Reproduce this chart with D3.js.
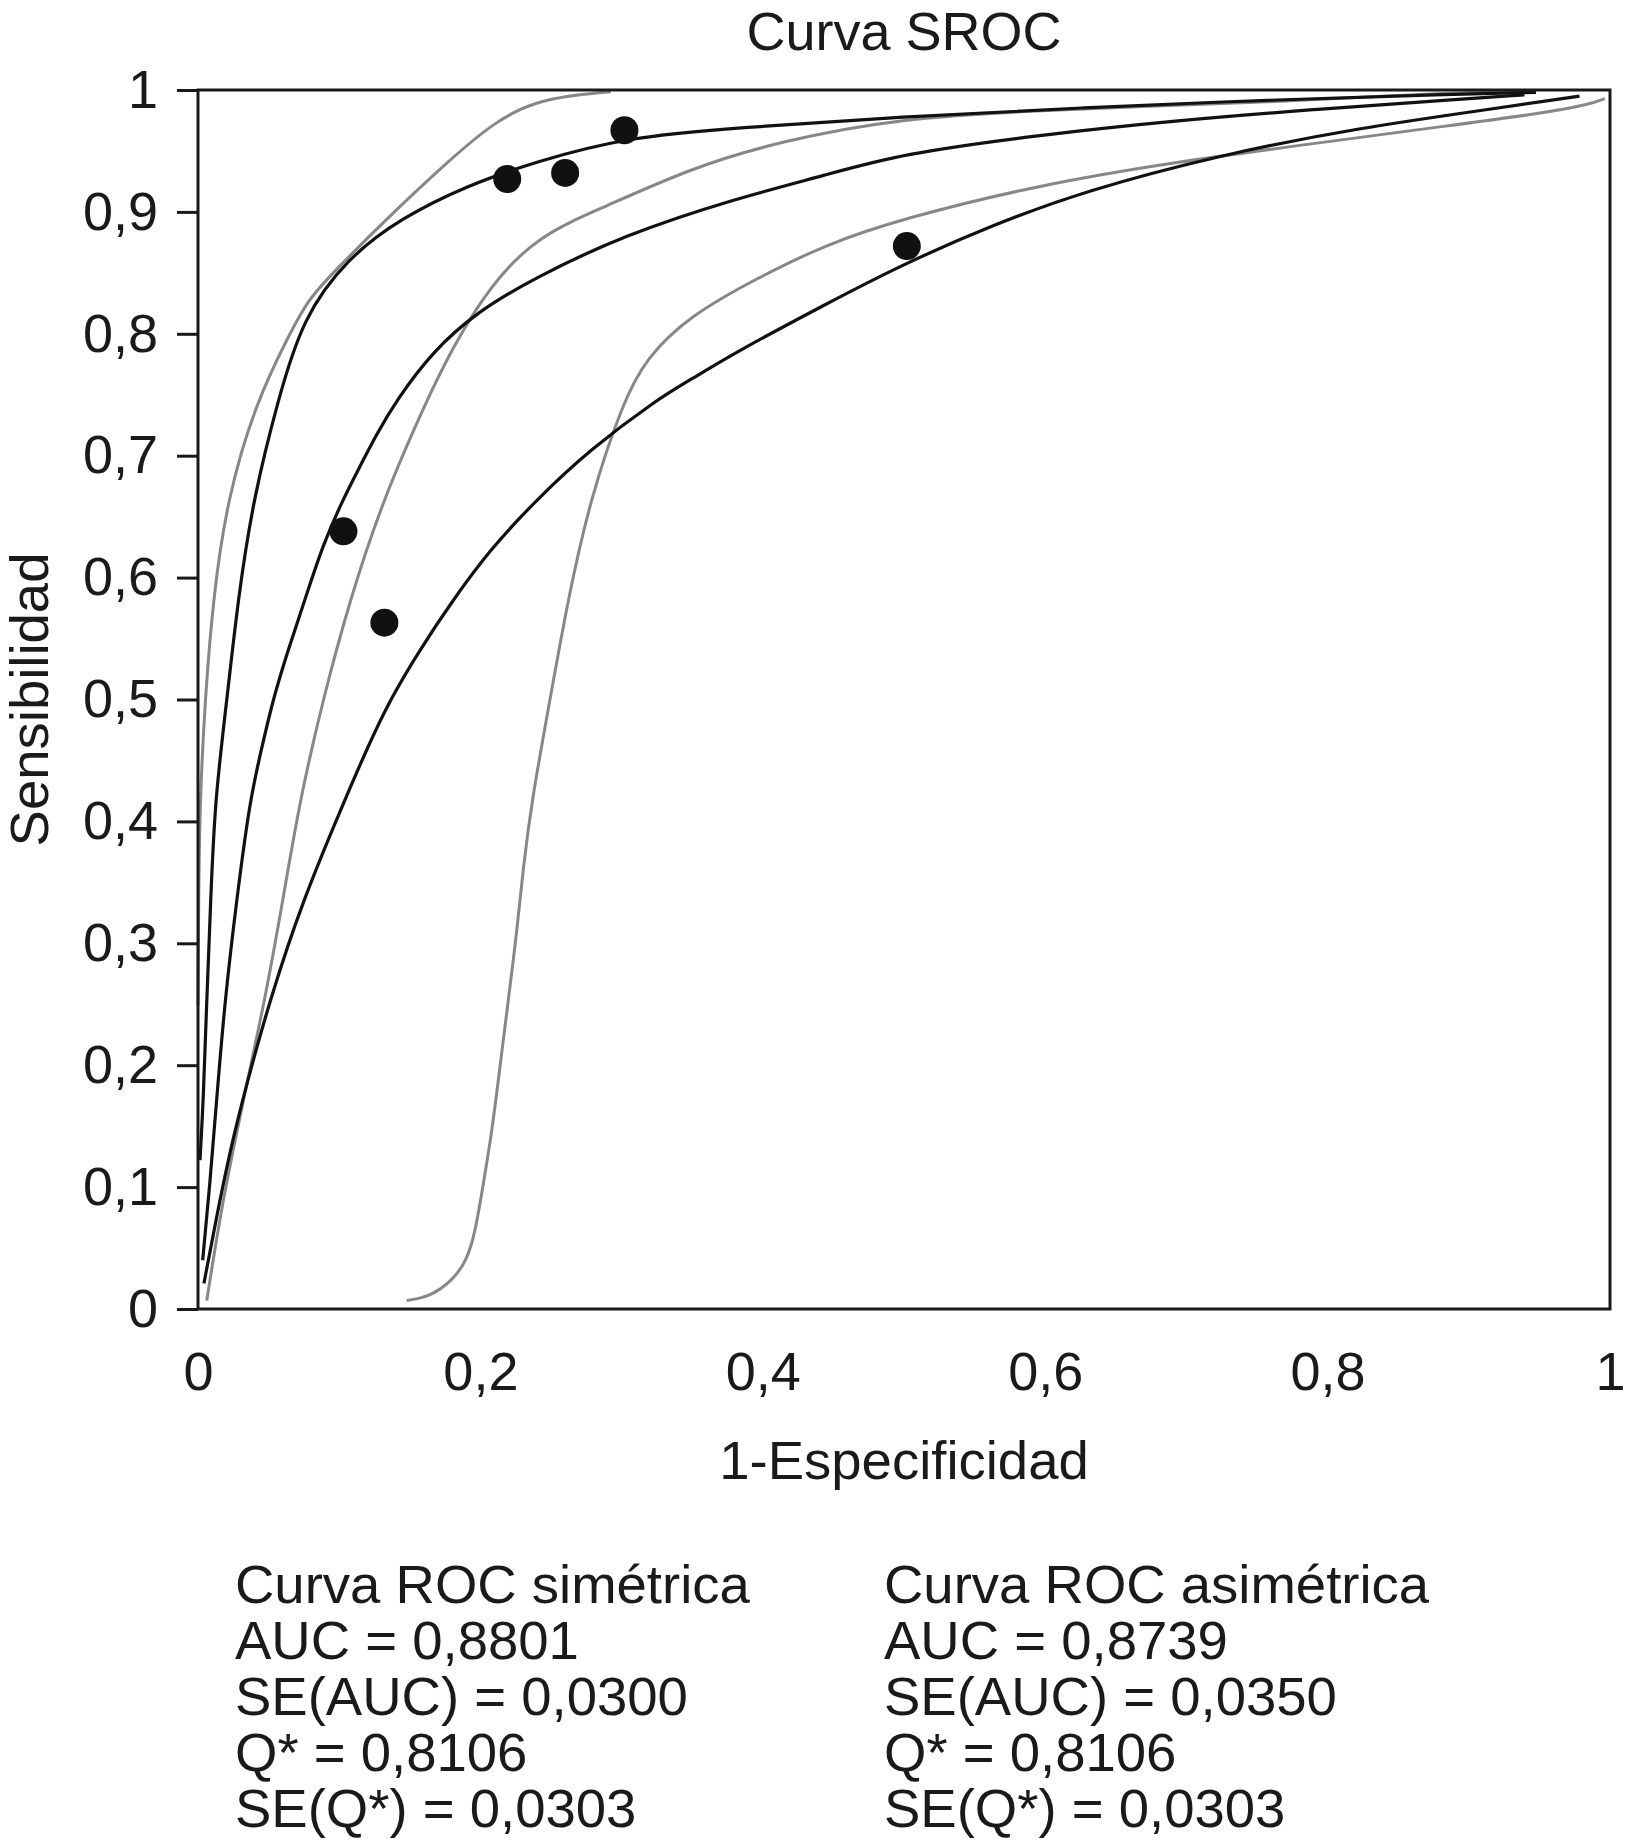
<!DOCTYPE html>
<html>
<head>
<meta charset="utf-8">
<script src="https://cdn.jsdelivr.net/npm/d3@7"></script>
<style>
  body { margin: 0; background: #fff; }
  text { font-family: "Liberation Sans", Arial, sans-serif; fill: #1a1a1a; }
</style>
</head>
<body>
<div id="chart"></div>
<script>
const width = 1625,
    height = 1845,
    padLeft = 198,
    padRight = 1610,
    padTop = 90,
    padBottom = 1309;

// study points (1-specificity, sensitivity)
const studies = [
    [0.103, 0.638], [0.132, 0.563], [0.219, 0.927],
    [0.26, 0.932], [0.302, 0.967], [0.502, 0.872]
];

// black curves
const blackUpper = [
    [0.0014, 0.122], [0.0038, 0.171], [0.0062, 0.254], [0.009, 0.336], [0.012, 0.418],
    [0.0205, 0.5], [0.0283, 0.582], [0.039, 0.664], [0.0567, 0.746], [0.0741, 0.813],
    [0.1057, 0.862], [0.1438, 0.895], [0.1912, 0.922], [0.2387, 0.941], [0.3017, 0.961],
    [0.3808, 0.969], [0.4972, 0.978], [0.6273, 0.9855], [0.7573, 0.9918], [0.8874, 0.9965],
    [0.9476, 0.9981]
];
const blackMiddle = [
    [0.0033, 0.04], [0.0085, 0.103], [0.0132, 0.172], [0.0191, 0.254], [0.0274, 0.336],
    [0.0368, 0.418], [0.0449, 0.459], [0.0531, 0.5], [0.0639, 0.541], [0.0758, 0.582],
    [0.0884, 0.627], [0.1027, 0.664], [0.1124, 0.686], [0.1266, 0.718], [0.1409, 0.746],
    [0.1657, 0.785], [0.1975, 0.818], [0.2385, 0.846], [0.3017, 0.881], [0.3808, 0.911],
    [0.4441, 0.93], [0.4972, 0.9475], [0.5947, 0.963], [0.6923, 0.975], [0.7896, 0.984],
    [0.8874, 0.992], [0.9394, 0.996]
];
const blackLower = [
    [0.0042, 0.021], [0.0132, 0.076], [0.0227, 0.13], [0.0345, 0.185], [0.051, 0.254],
    [0.0744, 0.336], [0.1041, 0.418], [0.1194, 0.459], [0.136, 0.5], [0.1572, 0.541],
    [0.1808, 0.582], [0.2068, 0.623], [0.2398, 0.664], [0.2776, 0.705], [0.3249, 0.746],
    [0.3484, 0.762], [0.3808, 0.785], [0.4441, 0.824], [0.4972, 0.856], [0.5622, 0.889],
    [0.6273, 0.917], [0.7248, 0.947], [0.8222, 0.969], [0.9199, 0.985], [0.9784, 0.995]
];

// grey curves
const greyUpper = [
    [0.0, 0.249], [0.0004, 0.336], [0.0014, 0.418], [0.005, 0.5], [0.0106, 0.582],
    [0.0205, 0.664], [0.0411, 0.744], [0.0645, 0.799], [0.0779, 0.828], [0.0963, 0.851],
    [0.1342, 0.895], [0.1785, 0.943], [0.2101, 0.974], [0.2415, 0.993], [0.2923, 0.9986]
];
const greyMiddle = [
    [0.0062, 0.007], [0.0156, 0.076], [0.0248, 0.13], [0.0345, 0.185], [0.0475, 0.254],
    [0.0602, 0.336], [0.0722, 0.418], [0.0885, 0.5], [0.1076, 0.582], [0.131, 0.664],
    [0.1615, 0.744], [0.1785, 0.785], [0.2068, 0.84], [0.2415, 0.881], [0.286, 0.903],
    [0.3491, 0.936], [0.4122, 0.958], [0.4972, 0.977], [0.5947, 0.983], [0.6598, 0.986],
    [0.7573, 0.99], [0.8548, 0.996], [0.92, 0.999], [0.9426, 0.9986]
];
const greyLower = [
    [0.1478, 0.007], [0.1643, 0.01], [0.1808, 0.024], [0.1903, 0.04], [0.1962, 0.062],
    [0.2021, 0.103], [0.208, 0.144], [0.2139, 0.199], [0.2198, 0.254], [0.2257, 0.308],
    [0.2304, 0.363], [0.2365, 0.418], [0.2493, 0.5], [0.262, 0.582], [0.2776, 0.664],
    [0.301, 0.744], [0.3173, 0.78], [0.3484, 0.815], [0.3966, 0.846], [0.4441, 0.873],
    [0.4972, 0.894], [0.5947, 0.922], [0.6923, 0.941], [0.7896, 0.956], [0.8874, 0.971],
    [0.9524, 0.981], [0.9849, 0.988], [0.9963, 0.993]
];

const xTicks = [0, 0.2, 0.4, 0.6, 0.8, 1];
const yTicks = [0, 0.1, 0.2, 0.3, 0.4, 0.5, 0.6, 0.7, 0.8, 0.9, 1];

const leftStats = ["Curva ROC simétrica", "AUC = 0,8801", "SE(AUC) = 0,0300", "Q* = 0,8106", "SE(Q*) = 0,0303"];
const rightStats = ["Curva ROC asimétrica", "AUC = 0,8739", "SE(AUC) = 0,0350", "Q* = 0,8106", "SE(Q*) = 0,0303"];

const svg = d3
    .select("#chart")
    .append("svg")
    .attr("width", width)
    .attr("height", height);

const xScale = d3.scaleLinear().domain([0, 1]).range([padLeft, padRight]);
const yScale = d3.scaleLinear().domain([0, 1]).range([padBottom, padTop]);

const comma = d3.formatLocale({ decimal: ",", thousands: ".", grouping: [3], currency: ["", ""] }).format("~g");

// title
svg.append("text")
    .attr("x", (padLeft + padRight) / 2)
    .attr("y", 50)
    .attr("text-anchor", "middle")
    .style("font-size", "54px")
    .text("Curva SROC");

// curves
const line = d3
    .line()
    .x((d) => xScale(d[0]))
    .y((d) => yScale(d[1]))
    .curve(d3.curveBasis);

[greyUpper, greyMiddle, greyLower].forEach((c) => {
    svg.append("path")
        .attr("d", line(c))
        .attr("fill", "none")
        .attr("stroke", "#878787")
        .attr("stroke-width", 3);
});
[blackUpper, blackMiddle, blackLower].forEach((c) => {
    svg.append("path")
        .attr("d", line(c))
        .attr("fill", "none")
        .attr("stroke", "#111")
        .attr("stroke-width", 3.2);
});

// points
svg.append("g")
    .selectAll("circle")
    .data(studies)
    .enter()
    .append("circle")
    .attr("cx", (d) => xScale(d[0]))
    .attr("cy", (d) => yScale(d[1]))
    .attr("r", 14)
    .attr("fill", "#111");

// frame
svg.append("rect")
    .attr("x", padLeft)
    .attr("y", padTop)
    .attr("width", padRight - padLeft)
    .attr("height", padBottom - padTop)
    .attr("fill", "none")
    .attr("stroke", "#1a1a1a")
    .attr("stroke-width", 3);

// y axis
const yAxis = svg.append("g")
    .attr("transform", "translate(" + padLeft + ",0)")
    .call(d3.axisLeft(yScale).tickValues(yTicks).tickSize(21).tickPadding(19).tickFormat(comma));
yAxis.select(".domain").remove();
yAxis.selectAll("line").attr("stroke", "#1a1a1a").attr("stroke-width", 3);
yAxis.selectAll("text").style("font-size", "54px").attr("fill", "#1a1a1a");

// x axis
const xAxis = svg.append("g")
    .attr("transform", "translate(0," + padBottom + ")")
    .call(d3.axisBottom(xScale).tickValues(xTicks).tickSize(0).tickPadding(43).tickFormat(comma));
xAxis.select(".domain").remove();
xAxis.selectAll("text").style("font-size", "54px").attr("fill", "#1a1a1a");

// axis labels
svg.append("text")
    .attr("x", (padLeft + padRight) / 2)
    .attr("y", 1479)
    .attr("text-anchor", "middle")
    .style("font-size", "54.5px")
    .text("1-Especificidad");
svg.append("text")
    .attr("transform", "translate(48," + (padTop + padBottom) / 2 + ") rotate(-90)")
    .attr("text-anchor", "middle")
    .style("font-size", "54.5px")
    .text("Sensibilidad");

// stats blocks
function statsBlock(lines, x) {
    svg.append("g")
        .selectAll("text")
        .data(lines)
        .enter()
        .append("text")
        .attr("x", x)
        .attr("y", (d, i) => 1603 + i * 56)
        .style("font-size", "54.5px")
        .text((d) => d);
}
statsBlock(leftStats, 235);
statsBlock(rightStats, 884);
</script>
</body>
</html>
